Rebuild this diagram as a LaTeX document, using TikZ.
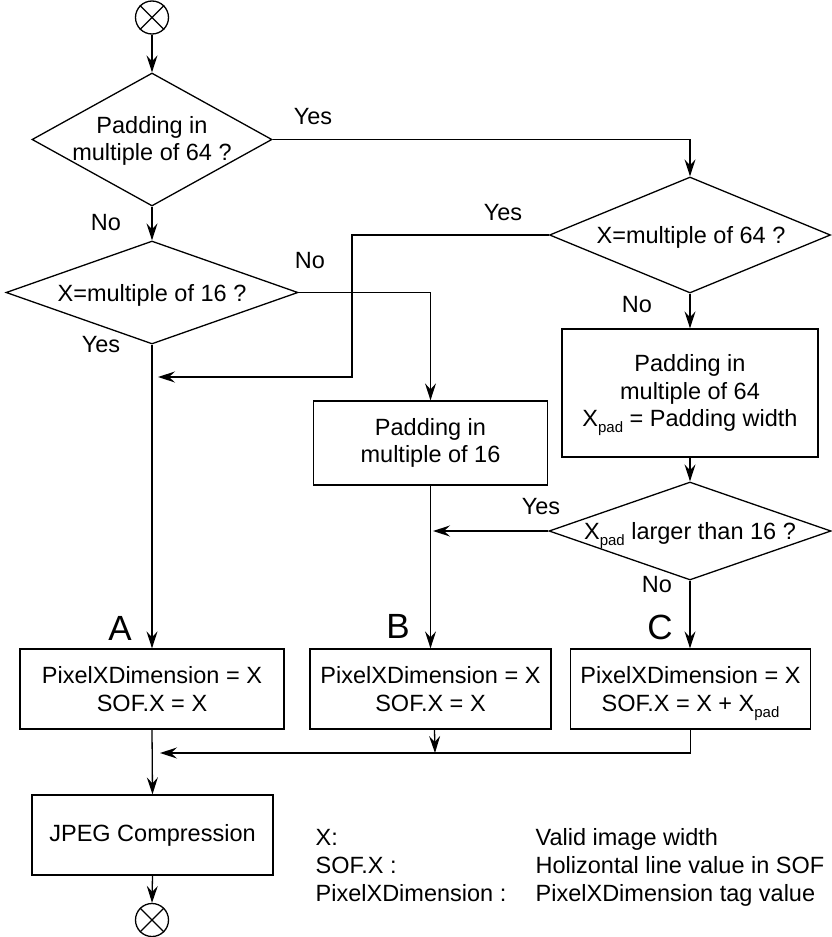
\documentclass[tikz,border=0pt]{standalone}
\usepackage{fontspec}
\setmainfont{Liberation Sans}
\usetikzlibrary{shapes.geometric,arrows.meta}
\newcommand\xpadsub{\raisebox{-6pt}[0pt][0pt]{\fontsize{15}{15}\selectfont pad}}
\begin{document}
\begin{tikzpicture}[x=1pt,y=-1pt, line width=1.3pt,
  every node/.style={font=\fontsize{23.5}{27.5}\selectfont},
  dia/.style={diamond,draw,inner sep=0pt},
  box/.style={rectangle,draw,inner sep=0pt,align=center},
  txt/.style={align=center,inner sep=0pt},
  lbl/.style={inner sep=0pt},
  leg/.style={inner sep=0pt,anchor=base west},
  big/.style={inner sep=0pt,font=\fontsize{35}{35}\selectfont},
  term/.style={circle,draw,minimum size=33pt,inner sep=0pt},
  arr/.style={-{Stealth[length=17pt,width=11pt,inset=6pt]}},
]
\useasboundingbox (0,0) rectangle (831,937);

% terminals
\node[term] (st) at (152,17.5) {};
\draw (st.north west) -- (st.south east) (st.north east) -- (st.south west);
\node[term] (en) at (152,920) {};
\draw (en.north west) -- (en.south east) (en.north east) -- (en.south west);

% decisions
\node[dia, minimum width=240pt, minimum height=133pt] (d1) at (152,139.5) {};
\node[txt] at (152,141) {Padding in\\multiple of 64 ?};
\node[dia, minimum width=292pt, minimum height=103pt] (d2) at (152,292.5) {};
\node[txt] at (152,295) {X=multiple of 16 ?};
\node[dia, minimum width=281pt, minimum height=116pt] (d3) at (690,235) {};
\node[txt] at (691,237) {X=multiple of 64 ?};
\node[dia, minimum width=282pt, minimum height=98pt] (d4) at (690,531) {};
\node[txt] at (690,533) {X\xpadsub{} larger than 16 ?};

% process boxes
\node[box, minimum width=256pt, minimum height=128pt] (c1) at (690,393) {Padding in\\multiple of 64\\X\xpadsub{} = Padding width};
\node[box, minimum width=234pt, minimum height=84pt] (b1) at (430.5,443) {Padding in\\multiple of 16};
\node[box, minimum width=264pt, minimum height=80pt] (a2) at (152,689) {PixelXDimension = X\\SOF.X = X};
\node[box, minimum width=241pt, minimum height=80pt] (b2) at (430.5,689) {PixelXDimension = X\\SOF.X = X};
\node[box, minimum width=240pt, minimum height=80pt] (c2) at (690.5,689) {PixelXDimension = X\\SOF.X = X + X\xpadsub};
\node[box, minimum width=241pt, minimum height=80pt] (jp) at (152.5,835) {JPEG Compression};

% junction coordinates
\coordinate (k) at (352,377);
\coordinate (j1) at (158,377);
\coordinate (j2) at (433,531);
\coordinate (j3) at (160,753);
\coordinate (j4) at (435,753);

% connectors
\draw[arr] (st.south) -- (d1.north);
\draw[arr] (d1.east) -| (d3.north);
\draw[arr] (d1.south) -- (d2.north);
\draw[arr] (d2.east) -| (b1.north);
\draw[arr] (d2.south) -- (a2.north);
\draw[arr] (d3.west) -| (k) -- (j1);
\draw[arr] (d3.south) -- (c1.north);
\draw[arr] (c1.south) -- (d4.north);
\draw[arr] (d4.west) -- (j2);
\draw[arr] (b1.south) -- (b2.north);
\draw[arr] (d4.south) -- (d4.south |- c2.north);
\draw[arr] (a2.south) -- (jp.north);
\draw[arr] (c2.south) |- (j3);
\draw[arr] ([xshift=4pt]b2.south) -- (j4);
\draw[arr] (jp.south) -- (en.north);

% branch labels
\node[lbl] at (313,117) {Yes};
\node[lbl] at (106,223) {No};
\node[lbl] at (310,261) {No};
\node[lbl] at (101,345) {Yes};
\node[lbl] at (503,213) {Yes};
\node[lbl] at (637,305) {No};
\node[lbl] at (541,507) {Yes};
\node[lbl] at (657,585) {No};
\node[big] at (120,628) {A};
\node[big] at (398,626) {B};
\node[big] at (660,627) {C};

% legend
\node[leg] at (315,845.5) {X:};
\node[leg] at (315,873) {SOF.X :};
\node[leg] at (315,901) {PixelXDimension :};
\node[leg] at (535,845.5) {Valid image width};
\node[leg] at (535,873) {Holizontal line value in SOF};
\node[leg] at (535,901) {PixelXDimension tag value};
\end{tikzpicture}
\end{document}
